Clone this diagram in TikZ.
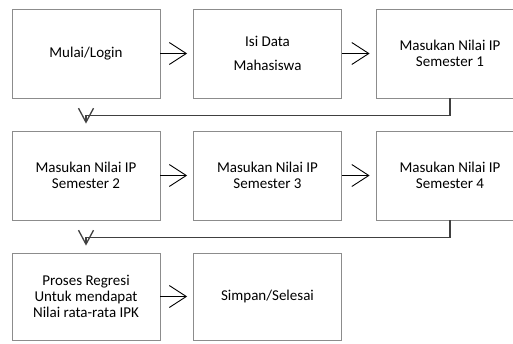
\documentclass[tikz,border=0pt]{standalone}
\usepackage{fontspec}
\setmainfont{Carlito}
\usetikzlibrary{arrows.meta}

\begin{document}
\begin{tikzpicture}[x=1pt,y=-1pt,font=\fontsize{15}{16}\selectfont,box/.style={draw=black!45, line width=0.8pt, minimum width=148pt, minimum height=89pt, align=center, inner sep=2pt},next/.style={-{Straight Barb[length=17pt,width=22pt]}, line width=0.9pt, shorten >=6pt},back/.style={-{Straight Barb[length=14pt,width=15pt]}, draw=black!75, line width=1.3pt, shorten >=7pt}]
\clip (0,0) rectangle (513,343);
% row 1
\node[box] (login) at (86,53.5) {Mulai/Login};
\node[box] (data) at (267.5,53.5) {Isi Data\\[8pt]Mahasiswa};
\node[box] (ip1) at (450,53.5) {Masukan Nilai IP\\Semester 1};
% row 2
\node[box] (ip2) at (86,175.5) {Masukan Nilai IP\\Semester 2};
\node[box] (ip3) at (267.5,175.5) {Masukan Nilai IP\\Semester 3};
\node[box] (ip4) at (450,175.5) {Masukan Nilai IP\\Semester 4};
% row 3
\node[box, minimum height=87pt] (regresi) at (86,296.5) {Proses Regresi\\Untuk mendapat\\Nilai rata-rata IPK};
\node[box, minimum height=87pt] (simpan) at (267.5,296.5) {Simpan/Selesai};
\draw[next] (login) -- (data);
\draw[next] (data) -- (ip1);
\draw[next] (ip2) -- (ip3);
\draw[next] (ip3) -- (ip4);
\draw[next] (regresi) -- (simpan);
\draw[back] (ip1.south) -- ++(0,17) -| (ip2.north);
\draw[back] (ip4.south) -- ++(0,17) -| (regresi.north);
\end{tikzpicture}
\end{document}
